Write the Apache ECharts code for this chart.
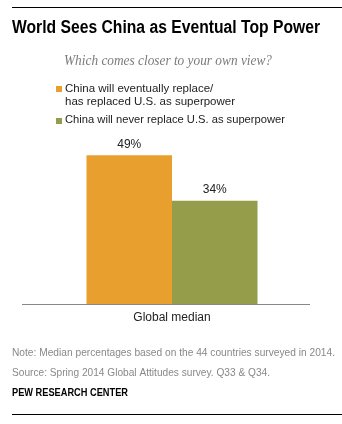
<!DOCTYPE html>
<html>
<head>
<meta charset="utf-8">
<script src="https://cdn.jsdelivr.net/npm/echarts@6/dist/echarts.min.js"></script>
<style>
html,body{margin:0;padding:0;background:#fff;}
#chart{width:342px;height:424px;}
</style>
</head>
<body>
<div id="chart"></div>
<script>
var categories = ["Global median"];
var seriesNames = ["China will eventually replace/\nhas replaced U.S. as superpower", "China will never replace U.S. as superpower"];
var replaceValues = [49];
var neverValues = [34];
var colors = ["#E99F2D", "#959C4A"];
var titleText = "World Sees China as Eventual Top Power";
var subtitleText = "Which comes closer to your own view?";
var noteText = "Note: Median percentages based on the 44 countries surveyed in 2014.";
var sourceText = "Source: Spring 2014 Global Attitudes survey. Q33 & Q34.";
var creditText = "PEW RESEARCH CENTER";

var sans = "'Liberation Sans', Arial, sans-serif";
var ctx = document.createElement('canvas').getContext('2d');
function fitText(text, font, left, top, width, fill) {
  ctx.font = font;
  var w = ctx.measureText(text).width;
  var s = width / w;
  return {type: 'text', x: left, y: top, scaleX: s, originX: 0, originY: 0,
          style: {text: text, fill: fill, font: font, x: 0, y: 0, textVerticalAlign: 'top'}};
}

var chart = echarts.init(document.getElementById('chart'), null, {renderer: 'canvas'});
var option = {
  animation: false,
  backgroundColor: '#fff',
  grid: {left: 34, right: 32, top: 122, bottom: 120},
  xAxis: {
    type: 'category',
    data: categories,
    axisLine: {show: false},
    axisTick: {show: false},
    axisLabel: {color: '#222', fontFamily: sans, fontSize: 12, margin: 8}
  },
  yAxis: {type: 'value', min: 0, max: 60, show: false, splitLine: {show: false}},
  series: [
    {name: seriesNames[0], type: 'bar', data: replaceValues, barWidth: 85.5, barGap: '0%',
     itemStyle: {color: colors[0]},
     label: {show: true, position: 'top', distance: 5, formatter: '{c}%', color: '#222', fontFamily: sans, fontSize: 12}},
    {name: seriesNames[1], type: 'bar', data: neverValues, barWidth: 85.5, barGap: '0%',
     itemStyle: {color: colors[1]},
     label: {show: true, position: 'top', distance: 5, formatter: '{c}%', color: '#222', fontFamily: sans, fontSize: 12}}
  ],
  graphic: [
    {type: 'line', shape: {x1: 12, y1: 7.5, x2: 342, y2: 7.5}, style: {stroke: '#000', lineWidth: 1}},
    fitText(titleText, "bold 18px " + sans, 12, 19, 308, '#000'),
    fitText(subtitleText, "italic 14.5px 'Liberation Serif', Georgia, serif", 64, 54, 208, '#7a7a7a'),
    {type: 'rect', shape: {x: 56, y: 86, width: 6, height: 6}, style: {fill: colors[0]}},
    {type: 'text', left: 65, top: 82, style: {text: seriesNames[0], fill: '#222', font: "11.5px " + sans, lineHeight: 13.5}},
    {type: 'rect', shape: {x: 56, y: 118, width: 6, height: 6}, style: {fill: colors[1]}},
    fitText(seriesNames[1], "11.5px " + sans, 65, 114, 220, '#222'),
    {type: 'line', shape: {x1: 22, y1: 304.5, x2: 310, y2: 304.5}, style: {stroke: '#888', lineWidth: 1}},
    fitText(noteText, "10.5px " + sans, 12, 348, 323, '#888'),
    fitText(sourceText, "10.5px " + sans, 12, 368, 258, '#888'),
    fitText(creditText, "bold 10px " + sans, 12, 388, 116, '#000'),
    {type: 'line', shape: {x1: 12, y1: 414.5, x2: 342, y2: 414.5}, style: {stroke: '#000', lineWidth: 1}}
  ]
};
chart.setOption(option);
</script>
</body>
</html>
